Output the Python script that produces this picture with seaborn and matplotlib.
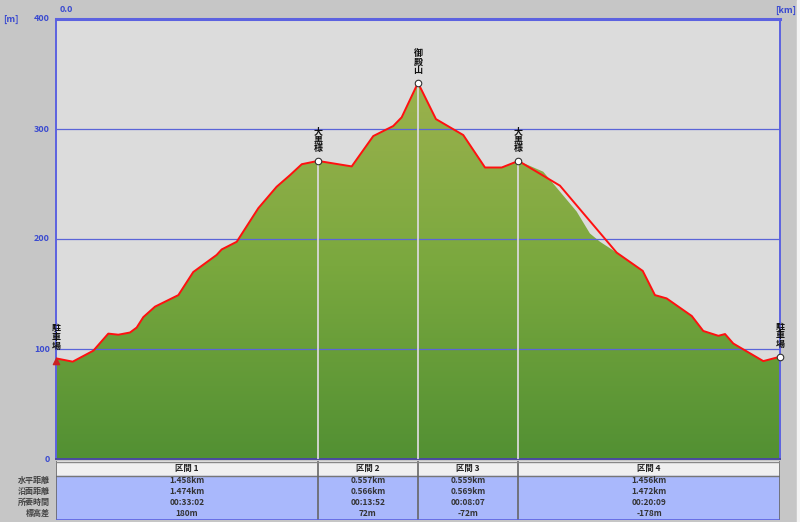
import numpy as np
import matplotlib
matplotlib.use("Agg")
import matplotlib.pyplot as plt
from matplotlib.colors import LinearSegmentedColormap
import seaborn as sns

# route (red line): distance [km], elevation [m]
route_km = [0.0, 0.093, 0.208, 0.291, 0.347, 0.412, 0.449, 0.486, 0.551, 0.681,
            0.764, 0.894, 0.922, 1.006, 1.126, 1.228, 1.302, 1.368, 1.458, 1.646,
            1.766, 1.877, 1.924, 2.015, 2.115, 2.267, 2.388, 2.481, 2.574, 2.805,
            3.121, 3.266, 3.334, 3.399, 3.539, 3.603, 3.687, 3.724, 3.770, 3.937, 4.030]
route_m = [91.5, 88.5, 98.5, 114, 113, 115, 119.5, 129, 138.5, 149,
           170, 185.5, 190.5, 197.5, 228, 247.5, 258, 268, 271, 266,
           293.6, 302.7, 310.6, 342, 309, 294.5, 265, 265, 271, 248.5,
           187.6, 171, 149, 146, 130, 116.4, 112, 113.6, 105, 89, 93]

# terrain differs from the route between 2.574 and 3.121 km
terrain_km = [2.712, 2.898, 2.972, 3.028]
terrain_m = [261.2, 225, 205, 197.5]

# waypoints
wp_km = [0.0, 1.458, 2.015, 2.574, 4.030]
wp_m = [91.5, 271, 342, 271, 93]
wp_names = ["駐車場", "大黒様", "御殿山", "大黒様", "駐車場"]

# section table
sections = ["区間 1", "区間 2", "区間 3", "区間 4"]
row_names = ["水平距離", "沿面距離", "所要時間", "標高差"]
horiz_dist = ["1.458km", "0.557km", "0.559km", "1.456km"]
surf_dist = ["1.474km", "0.566km", "0.569km", "1.472km"]
times = ["00:33:02", "00:13:52", "00:08:07", "00:20:09"]
elev_diff = ["180m", "72m", "-72m", "-178m"]

y_ticks = [0, 100, 200, 300, 400]

sns.set_theme(style="white")
plt.rcParams["font.family"] = ["Noto Sans CJK JP", "DejaVu Sans"]

W, H = 800, 522
fig = plt.figure(figsize=(W / 100, H / 100), dpi=100, facecolor="#c6c6c6")
blue = "#3a4ad0"

# main profile axes
ax = fig.add_axes([56 / W, 1 - 459 / H, 724 / W, 440 / H])
ax.set_facecolor("#dcdcdc")
x_max = route_km[-1]
ax.set_xlim(0, x_max)
ax.set_ylim(0, 400)

# terrain polygon
i_a = route_km.index(2.574)
i_b = route_km.index(3.121)
t_km = route_km[:i_a + 1] + terrain_km + route_km[i_b:]
t_m = route_m[:i_a + 1] + terrain_m + route_m[i_b:]
poly_x = [0.0] + t_km + [x_max]
poly_y = [0.0] + t_m + [0.0]
patch = ax.fill(poly_x, poly_y, color="none", lw=0)[0]

cmap = LinearSegmentedColormap.from_list("hill", ["#529033", "#7aa83e", "#9db24e"])
grad = np.linspace(0, 1, 256).reshape(-1, 1)
img = ax.imshow(grad, cmap=cmap, origin="lower", aspect="auto",
                extent=[0, x_max, 0, 350], zorder=1)
img.set_clip_path(patch)

for y in [100, 200, 300]:
    ax.axhline(y, color="#5a64d8", lw=0.9, zorder=2)

for k in wp_km[1:-1]:
    ax.axvline(k, ymax=wp_m[wp_km.index(k)] / 400, color="#d8d8d8", lw=1.3, zorder=3)

sns.lineplot(x=route_km, y=route_m, ax=ax, color="#ff1010", lw=1.4,
             sort=False, estimator=None, zorder=4)

ax.scatter(wp_km[1:], wp_m[1:], s=22, facecolor="white", edgecolor="#333333",
           lw=0.8, zorder=5, clip_on=False)
ax.scatter([wp_km[0]], [wp_m[0] - 2], s=20, color="#cc2222", marker="^",
           zorder=5, clip_on=False)

for k, m, name in zip(wp_km, wp_m, wp_names):
    ax.text(k, m + 7, "\n".join(name), ha="center", va="bottom", fontsize=6.5,
            fontweight="bold", color="#111111", linespacing=0.95, zorder=6,
            clip_on=False)

ax.set_xticks([])
ax.set_yticks([])
for s in ["left", "top", "right"]:
    ax.spines[s].set_color("#5c62e0")
ax.spines["top"].set_linewidth(2.2)
ax.spines["left"].set_linewidth(1.4)
ax.spines["right"].set_linewidth(1.4)
ax.spines["bottom"].set_color("#4a4aa0")
ax.spines["bottom"].set_linewidth(1.4)

for y in y_ticks:
    ax.text(-6 / 724, y, str(y), transform=ax.get_yaxis_transform(), ha="right",
            va="center", fontsize=6.5, fontweight="bold", color=blue)

fig.text(3 / W, 1 - 19 / H, "[m]", ha="left", va="center", fontsize=6.5,
         fontweight="bold", color=blue)
fig.text(60 / W, 1 - 10 / H, "0.0", ha="left", va="center", fontsize=6.5,
         fontweight="bold", color=blue)
fig.text(796 / W, 1 - 10 / H, "[km]", ha="right", va="center", fontsize=6.5,
         fontweight="bold", color=blue)

# section table
tb = fig.add_axes([56 / W, 1 - 520 / H, 724 / W, 59 / H])
tb.set_xlim(0, x_max)
tb.set_ylim(59, 0)
tb.axis("off")
tb.axhspan(0, 15, color="#f0f0f0", zorder=0)
tb.axhspan(15, 59, color="#a9b8fc", zorder=0)
tb.axhline(15, color="#777777", lw=1.0)
bounds = [0.0] + wp_km[1:]
for b in bounds:
    tb.axvline(b, color="#666666", lw=1.2)
tb.axhline(0.5, color="#888888", lw=1.0)
tb.axhline(58.5, color="#5c62e0", lw=1.2)

rows = [horiz_dist, surf_dist, times, elev_diff]
row_y = [19.5, 30.5, 41.5, 52.5]
for i, sec in enumerate(sections):
    cx = (bounds[i] + bounds[i + 1]) / 2
    tb.text(cx, 7.5, sec, ha="center", va="center", fontsize=6,
            fontweight="bold", color="#222222")
    for vals, ry in zip(rows, row_y):
        tb.text(cx, ry, vals[i], ha="center", va="center", fontsize=6,
                fontweight="bold", color="#333333")

for name, ry in zip(row_names, row_y):
    fig.text(50 / W, 1 - (461 + ry) / H, name, ha="right", va="center",
             fontsize=5.8, fontweight="bold", color="#444444")

fig.patches.append(plt.Rectangle((797 / W, 0), 3 / W, 1, transform=fig.transFigure,
                                 color="#f4f4f4", zorder=0))

fig.savefig("out.png", dpi=100, facecolor=fig.get_facecolor())
